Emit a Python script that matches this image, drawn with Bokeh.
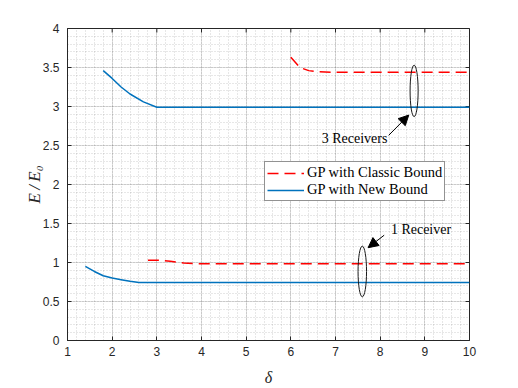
import numpy as np
from bokeh.plotting import figure
from bokeh.models import (Range1d, FixedTicker, Legend, LegendItem,
                          Label, Arrow, NormalHead)
from bokeh.embed import file_html
from bokeh.resources import INLINE

# ---------------- data ----------------
delta_new_1rx = [1.4, 1.6, 1.8, 2.0, 2.2, 2.4, 2.6, 10.0]
e_new_1rx = [0.95, 0.885, 0.83, 0.80, 0.78, 0.76, 0.745, 0.745]

delta_classic_1rx = [2.8, 3.0, 3.3, 3.6, 3.9, 10.0]
e_classic_1rx = [1.03, 1.03, 1.015, 0.995, 0.985, 0.985]

delta_new_3rx = [1.8, 2.0, 2.2, 2.4, 2.7, 3.0, 10.0]
e_new_3rx = [3.46, 3.36, 3.25, 3.16, 3.06, 2.99, 2.99]

delta_classic_3rx = [6.0, 6.2, 6.4, 6.6, 6.9, 10.0]
e_classic_3rx = [3.63, 3.50, 3.46, 3.445, 3.44, 3.44]

series_labels = ["GP with Classic Bound", "GP with New Bound"]

x_ticks = [1, 2, 3, 4, 5, 6, 7, 8, 9, 10]
x_tick_labels = ["1", "2", "3", "4", "5", "6", "7", "8", "9", "10"]
y_ticks = [0, 0.5, 1, 1.5, 2, 2.5, 3, 3.5, 4]
y_tick_labels = ["0", "0.5", "1", "1.5", "2", "2.5", "3", "3.5", "4"]

annot_texts = ["3 Receivers", "1 Receiver"]
annot_text_x = [6.69, 8.24]
annot_text_y = [2.59, 1.42]
ellipse_x = [8.76, 7.60]
ellipse_y = [3.20, 0.885]
ellipse_w = [0.18, 0.19]
ellipse_h = [0.66, 0.65]
arrow_x0 = [8.19, 8.09]
arrow_y0 = [2.63, 1.35]
arrow_x1 = [8.64, 7.73]
arrow_y1 = [2.89, 1.19]

# ---------------- styles ----------------
BLUE = "#0072BD"
RED = "#FF0000"
AX = "#262626"
SERIF = "Liberation Serif"
SANS = "Liberation Sans"

p = figure(width=518, height=388, output_backend="svg", toolbar_location=None,
           x_range=Range1d(x_ticks[0], x_ticks[-1]),
           y_range=Range1d(y_ticks[0], y_ticks[-1]),
           min_border_left=67, min_border_right=49, min_border_top=28,
           min_border_bottom=44, background_fill_color="white",
           border_fill_color="white")
p.outline_line_color = AX
p.outline_line_width = 1

x_minor = [float(v) for v in np.round(np.arange(1, 10.001, 0.2), 2)]
y_minor = [float(v) for v in np.round(np.arange(0, 4.001, 0.1), 2)]
xticker = FixedTicker(ticks=x_ticks, minor_ticks=x_minor)
yticker = FixedTicker(ticks=y_ticks, minor_ticks=y_minor)

p.xaxis.ticker = xticker
p.yaxis.ticker = yticker
p.xaxis.major_label_overrides = {float(t): l for t, l in zip(x_ticks, x_tick_labels)}
p.yaxis.major_label_overrides = {float(t): l for t, l in zip(y_ticks, y_tick_labels)}

for ax in (p.xaxis[0], p.yaxis[0]):
    ax.major_tick_in = 4
    ax.major_tick_out = 0
    ax.minor_tick_line_color = None
    ax.axis_line_color = AX
    ax.major_tick_line_color = AX
    ax.major_label_text_font = SANS
    ax.major_label_text_font_size = "12px"
    ax.major_label_text_color = AX
    ax.axis_label_text_font = SERIF
    ax.axis_label_text_font_style = "italic"
    ax.axis_label_text_color = AX

p.xaxis.axis_label_text_font_size = "16px"
p.yaxis.axis_label_text_font_size = "17px"
p.xaxis.major_label_standoff = 2
p.xaxis.axis_label_standoff = 10
p.yaxis.major_label_standoff = 4
p.yaxis.axis_label_standoff = -4
p.xaxis.axis_label = "δ"
p.yaxis.axis_label = "E\u2009/\u2009E₀"

for g in (p.xgrid[0], p.ygrid[0]):
    g.grid_line_color = AX
    g.grid_line_alpha = 0.15
    g.minor_grid_line_color = AX
    g.minor_grid_line_alpha = 0.22
    g.minor_grid_line_dash = "1 2"

# mirrored tick marks on the top and right edges (box on)
p.scatter(x=x_ticks, y=[y_ticks[-1]] * len(x_ticks), marker="dash", angle=np.pi / 2,
          size=8, line_color=AX, line_width=1)
p.scatter(x=[x_ticks[-1]] * len(y_ticks), y=y_ticks, marker="dash",
          size=8, line_color=AX, line_width=1)

# ---------------- lines ----------------
r_c1 = p.line(delta_classic_1rx, e_classic_1rx, line_color=RED, line_width=1.5,
              line_dash="11 6")
r_n1 = p.line(delta_new_1rx, e_new_1rx, line_color=BLUE, line_width=1.5)
r_c3 = p.line(delta_classic_3rx, e_classic_3rx, line_color=RED, line_width=1.5,
              line_dash="11 6")
r_n3 = p.line(delta_new_3rx, e_new_3rx, line_color=BLUE, line_width=1.5)

# ---------------- annotations ----------------
p.ellipse(x=ellipse_x, y=ellipse_y, width=ellipse_w, height=ellipse_h,
          fill_color=None, line_color="#1a1a1a", line_width=1)

for x0, y0, x1, y1 in zip(arrow_x0, arrow_y0, arrow_x1, arrow_y1):
    p.add_layout(Arrow(end=NormalHead(size=10, fill_color="black", line_color="black",
                                      line_width=1),
                       x_start=x0, y_start=y0, x_end=x1, y_end=y1,
                       line_color="black", line_width=1))

for t, x, y in zip(annot_texts, annot_text_x, annot_text_y):
    p.add_layout(Label(x=x, y=y, text=t, text_font=SERIF, text_font_size="14px",
                       text_baseline="middle", text_align="left", text_color="black"))

legend = Legend(items=[LegendItem(label=series_labels[0], renderers=[r_c1]),
                       LegendItem(label=series_labels[1], renderers=[r_n1])],
                location=(197, 139), orientation="vertical",
                padding=2, spacing=0, margin=0,
                glyph_width=37, glyph_height=16, label_height=16,
                label_standoff=3,
                label_text_font=SERIF, label_text_font_size="14.5px",
                label_text_color="black",
                border_line_color=AX, border_line_width=1,
                background_fill_color="white", background_fill_alpha=1)
p.add_layout(legend, "center")

open("out.html", "w").write(file_html(p, INLINE))
